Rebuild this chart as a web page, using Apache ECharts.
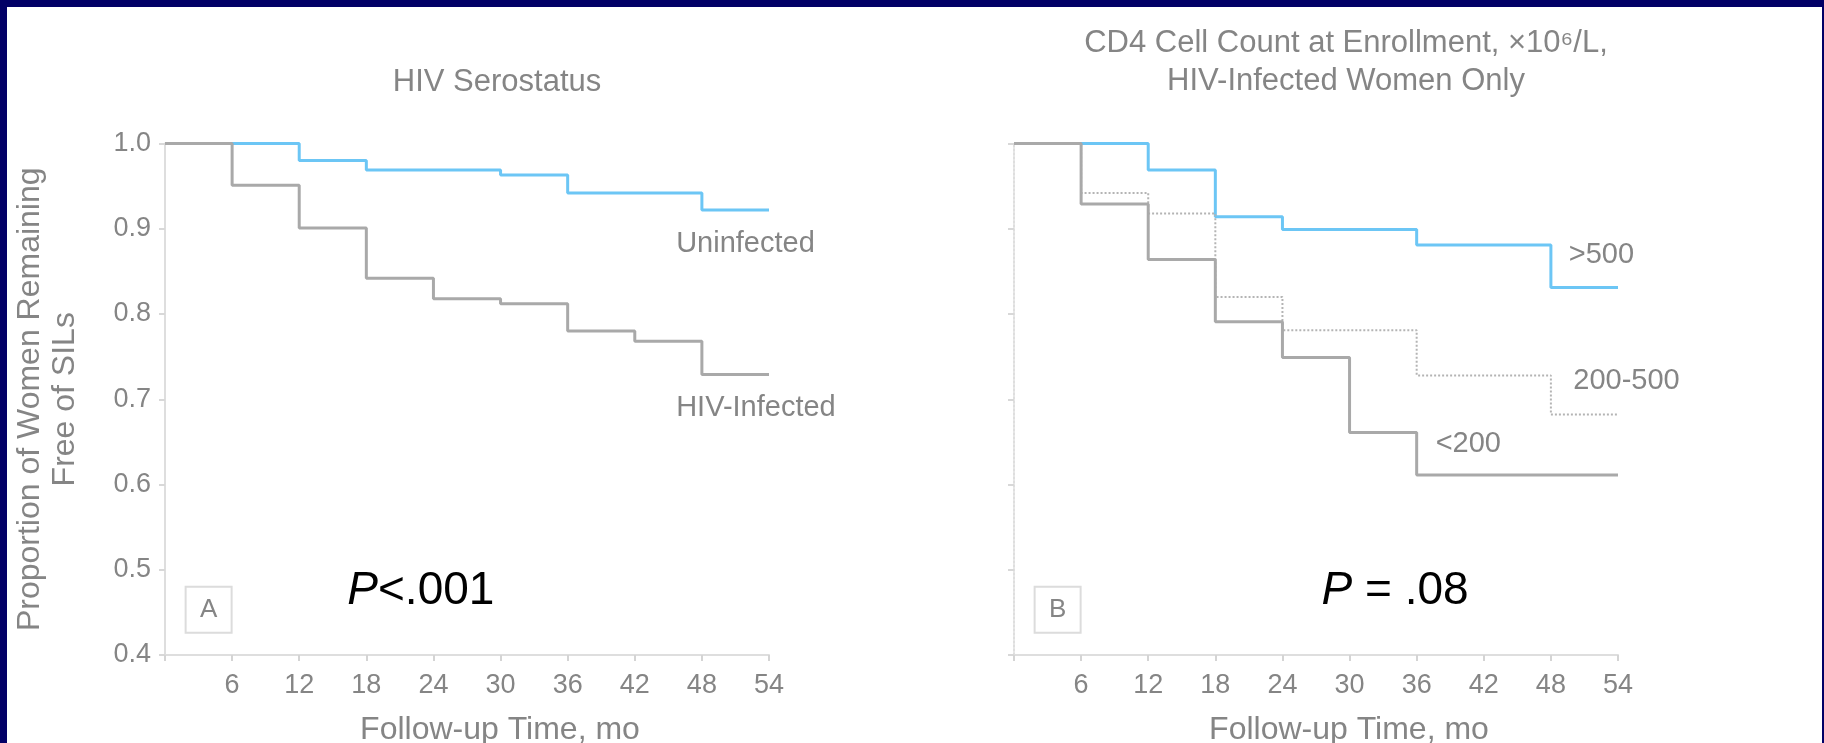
<!DOCTYPE html>
<html>
<head>
<meta charset="utf-8">
<script src="https://cdn.jsdelivr.net/npm/echarts@6/dist/echarts.min.js"></script>
<style>
  html, body { margin: 0; padding: 0; background: #020066; width: 1824px; height: 743px; overflow: hidden; }
  #chart { position: absolute; left: 7px; top: 7px; width: 1815px; height: 736px; background: #ffffff; }
</style>
</head>
<body>
<div id="chart"></div>
<script>
// ---- data ----
const monthTicks = [6, 12, 18, 24, 30, 36, 42, 48, 54];
const yTicks = [0.4, 0.5, 0.6, 0.7, 0.8, 0.9, 1.0];

const uninfectedTimes = [0, 12, 18, 30, 36, 48, 54];
const uninfectedVals  = [1.0, 0.980, 0.969, 0.963, 0.942, 0.922, 0.922];

const hivTimes = [0, 6, 12, 18, 24, 30, 36, 42, 48, 54];
const hivVals  = [1.0, 0.951, 0.901, 0.842, 0.818, 0.812, 0.780, 0.768, 0.729, 0.729];

const cd4HighTimes = [0, 12, 18, 24, 36, 48, 54];
const cd4HighVals  = [1.0, 0.969, 0.914, 0.899, 0.881, 0.831, 0.831];

const cd4MidTimes = [0, 6, 12, 18, 24, 36, 48, 54];
const cd4MidVals  = [1.0, 0.942, 0.918, 0.820, 0.781, 0.728, 0.682, 0.682];

const cd4LowTimes = [0, 6, 12, 18, 24, 30, 36, 54];
const cd4LowVals  = [1.0, 0.929, 0.864, 0.791, 0.749, 0.661, 0.611, 0.611];

const titleA = 'HIV Serostatus';
const titleB1 = 'CD4 Cell Count at Enrollment, \u00d710\u2076/L,';
const titleB2 = 'HIV-Infected Women Only';
const yName = 'Proportion of Women Remaining\nFree of SILs';
const xName = 'Follow-up Time, mo';

// ---- helpers ----
const zip = (t, v) => t.map((x, i) => [x, v[i]]);
const FONT = '"Liberation Sans", Arial, sans-serif';
const TXT = '#858585';
const AX = '#dedede';

const chart = echarts.init(document.getElementById('chart'));

function xAxisCfg(gi) {
  return {
    type: 'value', gridIndex: gi, min: 0, max: 54, interval: 6,
    name: xName, nameLocation: 'middle', nameGap: 59,
    nameTextStyle: { color: TXT, fontSize: 32, fontFamily: FONT, padding: [0, 0, 0, 66] },
    axisLine: { lineStyle: { color: AX, width: 2 } },
    axisTick: { show: true, length: 6, lineStyle: { color: '#d4d4d4', width: 2 },
                interval: 0 },
    axisLabel: { color: TXT, fontSize: 27, fontFamily: FONT, margin: 17,
                 formatter: v => (monthTicks.indexOf(v) >= 0 ? String(v) : '') },
    splitLine: { show: false }
  };
}
function yAxisCfg(gi, showLabels) {
  return {
    type: 'value', gridIndex: gi, min: 0.4, max: 1.0, interval: 0.1,
    name: showLabels ? yName : '', nameLocation: 'middle', nameGap: 82,
    nameTextStyle: { color: TXT, fontSize: 32, fontFamily: FONT, lineHeight: 35 },
    axisLine: { lineStyle: { color: AX, width: 2, type: showLabels ? 'solid' : 'dotted' } },
    axisTick: { show: true, length: 6, lineStyle: { color: '#d8d8d8', width: 2 } },
    axisLabel: { show: showLabels, color: TXT, fontSize: 27, fontFamily: FONT, margin: 14,
                 formatter: v => v.toFixed(1) },
    splitLine: { show: false }
  };
}
function stepSeries(name, gi, data, color, type, width, z) {
  return {
    name, type: 'line', xAxisIndex: gi, yAxisIndex: gi, data,
    step: 'end', symbol: 'none', z,
    lineStyle: { color, width, type },
    silent: true, animation: false
  };
}

chart.setOption({
  animation: false,
  title: [
    { text: titleA, left: 485, top: 55, textAlign: 'center',
      textStyle: { color: TXT, fontSize: 31, fontWeight: 'normal', fontFamily: FONT } },
    { text: titleB1 + '\n' + titleB2, left: 1334, top: 12, textAlign: 'center',
      textStyle: { color: TXT, fontSize: 31, fontWeight: 'normal', fontFamily: FONT, lineHeight: 38 } }
  ],
  grid: [
    { left: 158, top: 136.5, width: 604, height: 511.5, containLabel: false, outerBoundsMode: 'none' },
    { left: 1007, top: 136.5, width: 604, height: 511.5, containLabel: false, outerBoundsMode: 'none' }
  ],
  xAxis: [xAxisCfg(0), xAxisCfg(1)],
  yAxis: [yAxisCfg(0, true), yAxisCfg(1, false)],
  series: [
    stepSeries('Uninfected', 0, zip(uninfectedTimes, uninfectedVals), '#6cc6f5', 'solid', 3, 2),
    stepSeries('HIV-Infected', 0, zip(hivTimes, hivVals), '#a9a9a9', 'solid', 3, 3),
    stepSeries('>500', 1, zip(cd4HighTimes, cd4HighVals), '#6cc6f5', 'solid', 3, 2),
    stepSeries('200-500', 1, zip(cd4MidTimes, cd4MidVals), '#b4b4b4', 'dotted', 2, 3),
    stepSeries('<200', 1, zip(cd4LowTimes, cd4LowVals), '#a9a9a9', 'solid', 3, 4)
  ]
});

// ---- annotations placed through the axes ----
const annotations = [
  { g: 0, x: 45.7, y: 0.882, text: 'Uninfected' },
  { g: 0, x: 45.7, y: 0.690, text: 'HIV-Infected' },
  { g: 1, x: 49.6, y: 0.869, text: '>500' },
  { g: 1, x: 50.0, y: 0.721, text: '200-500' },
  { g: 1, x: 37.7, y: 0.648, text: '<200' }
];
const pvals = [
  { g: 0, x: 16.3, y: 0.475, rich: '{i|P}{n|<.001}' },
  { g: 1, x: 27.5, y: 0.475, rich: '{i|P}{n| = .08}' }
];
const boxes = [
  { g: 0, x: 3.9, y: 0.453, text: 'A' },
  { g: 1, x: 3.9, y: 0.453, text: 'B' }
];

function px(g, x, y) {
  return chart.convertToPixel({ gridIndex: g }, [x, y]);
}
const graphics = [];
annotations.forEach(a => {
  const p = px(a.g, a.x, a.y);
  graphics.push({ type: 'text', x: p[0], y: p[1], silent: true,
    style: { text: a.text, fill: TXT, font: '29px ' + FONT, textAlign: 'left', textVerticalAlign: 'middle' } });
});
pvals.forEach(a => {
  const p = px(a.g, a.x, a.y);
  graphics.push({ type: 'text', x: p[0], y: p[1], silent: true,
    style: { text: a.rich, textAlign: 'left', textVerticalAlign: 'middle',
      rich: {
        i: { fontStyle: 'italic', fontSize: 46, fontFamily: FONT, fill: '#000', color: '#000' },
        n: { fontSize: 46, fontFamily: FONT, fill: '#000', color: '#000' }
      } } });
});
boxes.forEach(b => {
  const p = px(b.g, b.x, b.y);
  graphics.push({ type: 'rect', silent: true,
    shape: { x: p[0] - 23, y: p[1] - 23, width: 46, height: 46 },
    style: { fill: '#fff', stroke: '#dcdcdc', lineWidth: 2 } });
  graphics.push({ type: 'text', x: p[0], y: p[1], silent: true,
    style: { text: b.text, fill: TXT, font: '26px ' + FONT, textAlign: 'center', textVerticalAlign: 'middle' } });
});
chart.setOption({ graphic: graphics });
</script>
</body>
</html>
